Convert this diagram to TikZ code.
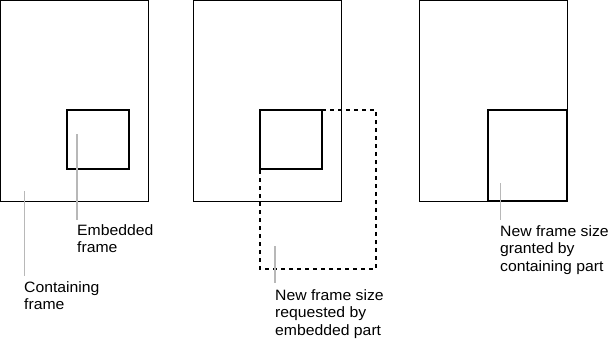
\documentclass[tikz,border=0pt]{standalone}
\usepackage{fontspec}
\setmainfont{Liberation Sans}[FakeStretch=1.05]
\begin{document}
\begin{tikzpicture}[x=1pt,y=-1pt,
  outer/.style={draw=black,line width=1pt},
  inner/.style={draw=black,line width=2pt},
  dashframe/.style={draw=black,line width=2pt,dash pattern=on 4pt off 4pt},
  leader/.style={draw=black!28,line width=1.5pt},
  label/.style={anchor=base west,inner sep=0pt,align=left,
    font=\fontsize{15pt}{17.5pt}\selectfont}]
\useasboundingbox (0,0) rectangle (609,340);
% panel 1
\draw[outer] (0.5,0.5) rectangle (148,201);
\draw[inner] (67,109.5) rectangle (129,169);
\coordinate (e1a) at (77,134); \coordinate (e1b) at (77,220);
\draw[leader] (e1a) -- (e1b);
\node[label] (emb) at (77,252.5) {Embedded\\frame};
\coordinate (c1a) at (24.5,191); \coordinate (c1b) at (24.5,276);
\draw[leader] (c1a) -- (c1b);
\node[label] (cont) at (24,309.5) {Containing\\frame};
% panel 2
\draw[inner] (260,109.5) rectangle (322,169);
\draw[dashframe] (322,109.5) -- (375.5,109.5) -- (375.5,269) -- (260,269) -- (260,169);
\draw[outer] (193.5,0.5) rectangle (341,201);
\coordinate (r2a) at (275,246); \coordinate (r2b) at (275,283);
\draw[leader] (r2a) -- (r2b);
\node[label] (req) at (275,335) {New frame size\\requested by\\embedded part};
% panel 3
\draw[outer] (419.5,0.5) rectangle (567,201);
\draw[inner] (487.5,110) rectangle (566.5,200.5);
\coordinate (g3a) at (500.5,183); \coordinate (g3b) at (500.5,220);
\draw[leader] (g3a) -- (g3b);
\node[label] (grant) at (500,271) {New frame size\\granted by\\containing part};
\end{tikzpicture}
\end{document}
